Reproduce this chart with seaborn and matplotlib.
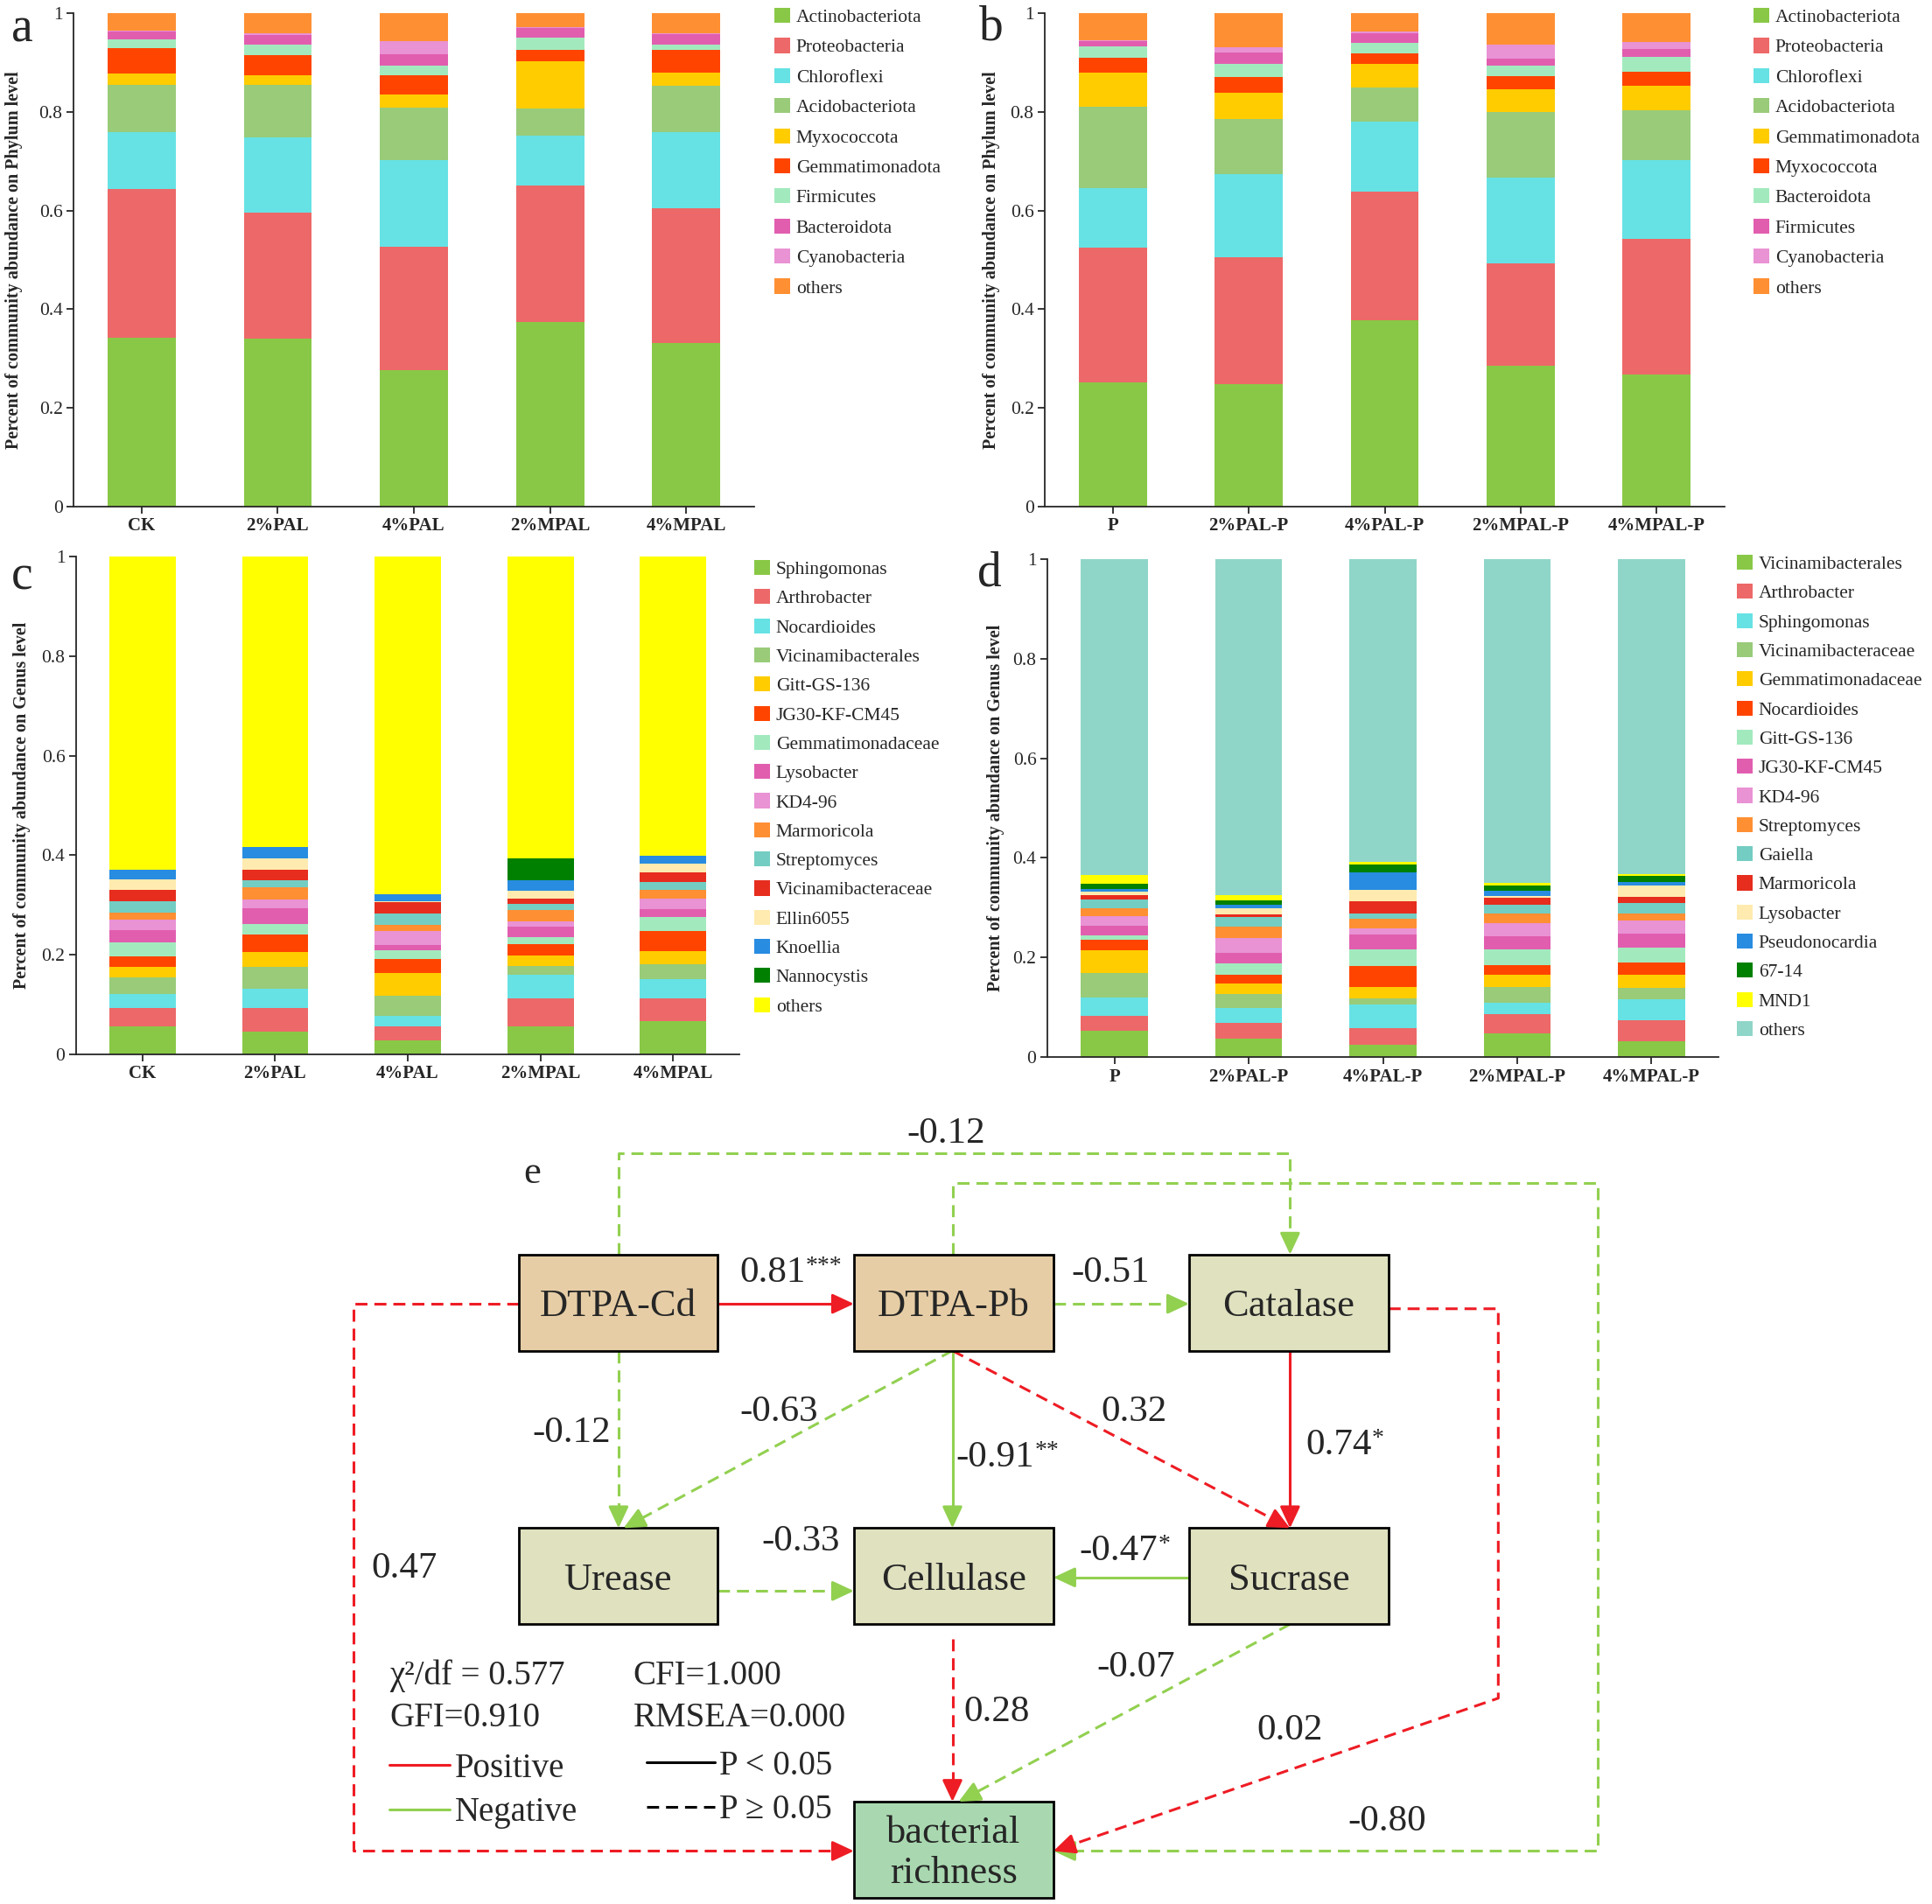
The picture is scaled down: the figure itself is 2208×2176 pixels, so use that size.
import numpy as np
import seaborn as sns
import matplotlib.pyplot as plt
from matplotlib.patches import Patch, Rectangle

sns.set_style('ticks')
plt.rcParams['font.family'] = ['Liberation Serif', 'DejaVu Serif']

# ---------------- data ----------------
groups_ac = ['CK', '2%PAL', '4%PAL', '2%MPAL', '4%MPAL']
groups_bd = ['P', '2%PAL-P', '4%PAL-P', '2%MPAL-P', '4%MPAL-P']

taxa_a = ['Actinobacteriota', 'Proteobacteria', 'Chloroflexi', 'Acidobacteriota',
          'Myxococcota', 'Gemmatimonadota', 'Firmicutes', 'Bacteroidota',
          'Cyanobacteria', 'others']
# rows = taxa, columns = groups
abund_a = [
    [0.342, 0.340, 0.277, 0.374, 0.332],
    [0.301, 0.256, 0.250, 0.277, 0.272],
    [0.116, 0.152, 0.176, 0.100, 0.155],
    [0.096, 0.106, 0.105, 0.056, 0.093],
    [0.022, 0.020, 0.027, 0.095, 0.028],
    [0.052, 0.041, 0.039, 0.023, 0.045],
    [0.017, 0.021, 0.019, 0.026, 0.012],
    [0.016, 0.019, 0.023, 0.019, 0.020],
    [0.003, 0.004, 0.028, 0.001, 0.002],
    [0.035, 0.041, 0.056, 0.029, 0.041],
]

taxa_b = ['Actinobacteriota', 'Proteobacteria', 'Chloroflexi', 'Acidobacteriota',
          'Gemmatimonadota', 'Myxococcota', 'Bacteroidota', 'Firmicutes',
          'Cyanobacteria', 'others']
abund_b = [
    [0.252, 0.249, 0.378, 0.285, 0.268],
    [0.273, 0.257, 0.261, 0.208, 0.275],
    [0.121, 0.167, 0.141, 0.174, 0.159],
    [0.164, 0.113, 0.070, 0.133, 0.102],
    [0.069, 0.052, 0.048, 0.045, 0.048],
    [0.030, 0.032, 0.021, 0.027, 0.030],
    [0.024, 0.027, 0.021, 0.021, 0.029],
    [0.010, 0.024, 0.020, 0.015, 0.016],
    [0.002, 0.009, 0.002, 0.029, 0.014],
    [0.055, 0.070, 0.038, 0.063, 0.059],
]

taxa_c = ['Sphingomonas', 'Arthrobacter', 'Nocardioides', 'Vicinamibacterales',
          'Gitt-GS-136', 'JG30-KF-CM45', 'Gemmatimonadaceae', 'Lysobacter',
          'KD4-96', 'Marmoricola', 'Streptomyces', 'Vicinamibacteraceae',
          'Ellin6055', 'Knoellia', 'Nannocystis', 'others']
abund_c = [
    [0.056, 0.045, 0.028, 0.057, 0.067],
    [0.037, 0.048, 0.028, 0.056, 0.046],
    [0.029, 0.038, 0.022, 0.047, 0.038],
    [0.032, 0.044, 0.039, 0.018, 0.030],
    [0.021, 0.031, 0.047, 0.020, 0.027],
    [0.021, 0.035, 0.028, 0.024, 0.040],
    [0.029, 0.021, 0.018, 0.013, 0.028],
    [0.025, 0.031, 0.009, 0.022, 0.016],
    [0.021, 0.018, 0.028, 0.011, 0.020],
    [0.014, 0.024, 0.013, 0.022, 0.019],
    [0.023, 0.015, 0.023, 0.012, 0.016],
    [0.022, 0.020, 0.022, 0.011, 0.018],
    [0.022, 0.023, 0.003, 0.015, 0.018],
    [0.019, 0.024, 0.013, 0.022, 0.016],
    [0.000, 0.000, 0.000, 0.044, 0.000],
    [0.629, 0.583, 0.679, 0.606, 0.601],
]

taxa_d = ['Vicinamibacterales', 'Arthrobacter', 'Sphingomonas', 'Vicinamibacteraceae',
          'Gemmatimonadaceae', 'Nocardioides', 'Gitt-GS-136', 'JG30-KF-CM45',
          'KD4-96', 'Streptomyces', 'Gaiella', 'Marmoricola', 'Lysobacter',
          'Pseudonocardia', '67-14', 'MND1', 'others']
abund_d = [
    [0.053, 0.037, 0.025, 0.048, 0.032],
    [0.030, 0.032, 0.033, 0.038, 0.042],
    [0.037, 0.029, 0.048, 0.023, 0.042],
    [0.049, 0.028, 0.011, 0.031, 0.022],
    [0.046, 0.021, 0.023, 0.025, 0.028],
    [0.020, 0.019, 0.043, 0.020, 0.024],
    [0.009, 0.022, 0.034, 0.032, 0.030],
    [0.019, 0.022, 0.029, 0.025, 0.027],
    [0.020, 0.029, 0.013, 0.027, 0.027],
    [0.015, 0.023, 0.018, 0.019, 0.014],
    [0.019, 0.019, 0.012, 0.018, 0.021],
    [0.009, 0.005, 0.023, 0.013, 0.013],
    [0.007, 0.012, 0.023, 0.004, 0.022],
    [0.004, 0.008, 0.036, 0.011, 0.008],
    [0.011, 0.009, 0.016, 0.011, 0.011],
    [0.017, 0.010, 0.005, 0.005, 0.005],
    [0.635, 0.675, 0.608, 0.650, 0.632],
]

base_colors = ['#89c846', '#ed6868', '#66e2e4', '#99cb79', '#ffcc00', '#ff4400',
               '#a2eabe', '#e15eaf', '#e992d4', '#ff8f33']
genus_extra = ['#73cdc3', '#e62d1e', '#ffebaf', '#288ce1', '#008000']
colors_ab = base_colors
colors_c = base_colors + genus_extra + ['#ffff00']
colors_d = base_colors + genus_extra + ['#ffff00', '#8fd6c8']

# structural equation model: path coefficients and significance
path_from = ['DTPA-Cd', 'DTPA-Pb', 'DTPA-Cd', 'DTPA-Pb', 'DTPA-Cd', 'DTPA-Cd',
             'DTPA-Pb', 'DTPA-Pb', 'DTPA-Pb', 'Catalase', 'Urease', 'Sucrase',
             'Cellulase', 'Sucrase', 'Catalase']
path_to = ['DTPA-Pb', 'Catalase', 'Catalase', 'richness', 'richness', 'Urease',
           'Urease', 'Cellulase', 'Sucrase', 'Sucrase', 'Cellulase', 'Cellulase',
           'richness', 'richness', 'richness']
path_coef = [0.81, -0.51, -0.12, -0.80, 0.47, -0.12, -0.63, -0.91, 0.32, 0.74,
             -0.33, -0.47, 0.28, -0.07, 0.02]
path_sig = ['***', '', '', '', '', '', '', '**', '', '*', '', '*', '', '', '']

fit_text = [('χ²/df = 0.577', 'CFI=1.000'), ('GFI=0.910', 'RMSEA=0.000')]

# ---------------- figure ----------------
W, H = 2208, 2176
fig = plt.figure(figsize=(W / 100, H / 100), dpi=100)


def frac(l, t, r, b):
    return [l / W, 1 - b / H, (r - l) / W, (b - t) / H]


def stacked(rect, groups, taxa, abund, colors, ylabel, leg_xy, lab_x, spacing):
    ax = fig.add_axes(frac(*rect))
    cum = np.cumsum(np.array(abund), axis=0)
    # draw cumulative sums from the top down so each layer sits on the next
    for i in range(len(taxa) - 1, -1, -1):
        sns.barplot(x=groups, y=cum[i], color=colors[i], width=0.5,
                    saturation=1, errorbar=None, linewidth=0, ax=ax)
    ax.set_xlim(-0.5, 4.5)
    ax.set_ylim(0, 1)
    ax.set_yticks([0, 0.2, 0.4, 0.6, 0.8, 1])
    ax.set_yticklabels(['0', '0.2', '0.4', '0.6', '0.8', '1'], fontsize=15.5)
    ax.set_xticks(range(5))
    ax.set_xticklabels(groups, fontsize=15, fontweight='bold')
    ax.tick_params(direction='out', length=6, width=1.3, pad=3)
    sns.despine(ax=ax)
    for s in ['left', 'bottom']:
        ax.spines[s].set_linewidth(1.3)
    ax.set_ylabel(ylabel, fontsize=14.5, fontweight='bold')
    ax.yaxis.set_label_coords(lab_x, 0.5)
    handles = [Patch(facecolor=c, edgecolor='none') for c in colors]
    fig.legend(handles, taxa, loc='upper left',
               bbox_to_anchor=(leg_xy[0] / W, 1 - leg_xy[1] / H),
               frameon=False, fontsize=15.5, handlelength=0.85,
               handleheight=0.85, handletextpad=0.3, labelspacing=spacing,
               borderpad=0, borderaxespad=0)
    return ax


stacked((84, 15, 862, 579), groups_ac, taxa_a, abund_a, colors_ab,
        'Percent of community abundance on Phylum level', (885, 9), -0.074, 0.62)
stacked((1194, 15, 1971, 579), groups_bd, taxa_b, abund_b, colors_ab,
        'Percent of community abundance on Phylum level', (2004, 9), -0.065, 0.62)
stacked((87, 636, 845, 1205), groups_ac, taxa_c, abund_c, colors_c,
        'Percent of community abundance on Genus level', (862, 640), -0.069, 0.57)
stacked((1197, 639, 1964, 1208), groups_bd, taxa_d, abund_d, colors_d,
        'Percent of community abundance on Genus level', (1985, 634), -0.064, 0.57)

for letter, (x, y) in zip('abcd', [(25, 33), (1133, 31), (25, 659), (1131, 655)]):
    fig.text(x / W, 1 - y / H, letter, fontsize=40, ha='center', va='center')

# ---------------- panel e: path diagram ----------------
ax = fig.add_axes([0, 0, 1, 660 / 1545])
ax.set_xlim(0, 1568)
ax.set_ylim(1545, 885)
ax.axis('off')

RED, GREEN = '#ee1c24', '#92d050'
boxes = {
    'DTPA-Cd': ((421, 1018, 582, 1096), '#e6cda5', 'DTPA-Cd'),
    'DTPA-Pb': ((693, 1018, 855, 1096), '#e6cda5', 'DTPA-Pb'),
    'Catalase': ((965, 1018, 1127, 1096), '#dfe1bf', 'Catalase'),
    'Urease': ((421, 1240, 582, 1318), '#dfe1bf', 'Urease'),
    'Cellulase': ((693, 1240, 855, 1318), '#dfe1bf', 'Cellulase'),
    'Sucrase': ((965, 1240, 1127, 1318), '#dfe1bf', 'Sucrase'),
    'richness': ((693, 1462, 855, 1540), '#a9d8b0', 'bacterial\nrichness'),
}
for (x0, y0, x1, y1), fc, label in boxes.values():
    ax.add_patch(Rectangle((x0, y0), x1 - x0, y1 - y0, facecolor=fc,
                           edgecolor='black', lw=2, zorder=3))
    ax.text((x0 + x1) / 2, (y0 + y1) / 2 + 3, label, fontsize=32, ha='center',
            va='center', linespacing=1.2, zorder=4)

# routes of each path (layout) and where its label sits
routes = [
    [(582, 1058), (693, 1058)],
    [(855, 1058), (965, 1058)],
    [(502, 1018), (502, 936), (1047, 936), (1047, 1018)],
    [(773, 1018), (773, 960), (1297, 960), (1297, 1502), (855, 1502)],
    [(421, 1058), (287, 1058), (287, 1502), (693, 1502)],
    [(502, 1096), (502, 1240)],
    [(773, 1096), (506, 1240)],
    [(773, 1096), (773, 1240)],
    [(773, 1096), (1047, 1240)],
    [(1047, 1096), (1047, 1240)],
    [(582, 1291), (693, 1291)],
    [(965, 1280), (855, 1280)],
    [(773, 1330), (773, 1462)],
    [(1047, 1318), (778, 1462)],
    [(1127, 1062), (1216, 1062), (1216, 1378), (855, 1502)],
]
label_pos = [(600, 1033, 'left'), (901, 1033, 'center'), (768, 920, 'center'),
             (1126, 1478, 'center'), (328, 1273, 'center'), (464, 1163, 'center'),
             (632, 1146, 'center'), (776, 1183, 'left'), (920, 1146, 'center'),
             (1060, 1173, 'left'), (650, 1251, 'center'), (876, 1259, 'left'),
             (809, 1389, 'center'), (922, 1353, 'center'), (1047, 1404, 'center')]

DASH = (0, (4.5, 2.6))
for pts, coef, sig, (lx, ly, ha) in zip(routes, path_coef, path_sig, label_pos):
    color = RED if coef > 0 else GREEN
    dashed = sig == ''
    (xa, ya), (xb, yb) = pts[-2], pts[-1]
    d = np.array([xb - xa, yb - ya], dtype=float)
    d /= np.hypot(*d)
    line = list(pts[:-1]) + [(xb - 6 * d[0], yb - 6 * d[1])]
    xs, ys = zip(*line)
    ax.plot(xs, ys, color=color, lw=2.2, ls=DASH if dashed else '-', zorder=2)
    ax.annotate('', xy=(xb, yb), xytext=(xb - 14 * d[0], yb - 14 * d[1]),
                arrowprops=dict(arrowstyle='-|>,head_length=0.75,head_width=0.35',
                                color=color, lw=2.2, shrinkA=0, shrinkB=0,
                                mutation_scale=20), zorder=5)
    t = ax.text(lx, ly, f'{coef:.2f}', fontsize=31, ha=ha, va='center', zorder=6)
    if sig:
        # significance stars as a superscript right after the coefficient
        ax.annotate(sig, xy=(1.0, 1.02), xycoords=t, ha='left', va='top',
                    fontsize=20, zorder=6)

# fit indices and legend
for row, (left, right) in enumerate(fit_text):
    y = 1360 + row * 34
    ax.text(316, y, left, fontsize=28, ha='left', va='center')
    ax.text(514, y, right, fontsize=28, ha='left', va='center')

ax.plot([316, 365], [1432, 1432], color=RED, lw=2.2)
ax.plot([316, 365], [1468, 1468], color=GREEN, lw=2.2)
ax.text(369, 1435, 'Positive', fontsize=28, ha='left', va='center')
ax.text(369, 1471, 'Negative', fontsize=28, ha='left', va='center')
ax.plot([525, 580], [1430, 1430], color='black', lw=2.2)
ax.plot([525, 580], [1466, 1466], color='black', lw=2.2, ls=DASH)
ax.text(584, 1433, 'P < 0.05', fontsize=28, ha='left', va='center')
ax.text(584, 1469, 'P ≥ 0.05', fontsize=28, ha='left', va='center')
ax.text(432, 952, 'e', fontsize=32, ha='center', va='center')

fig.savefig('out.png', dpi=100)
